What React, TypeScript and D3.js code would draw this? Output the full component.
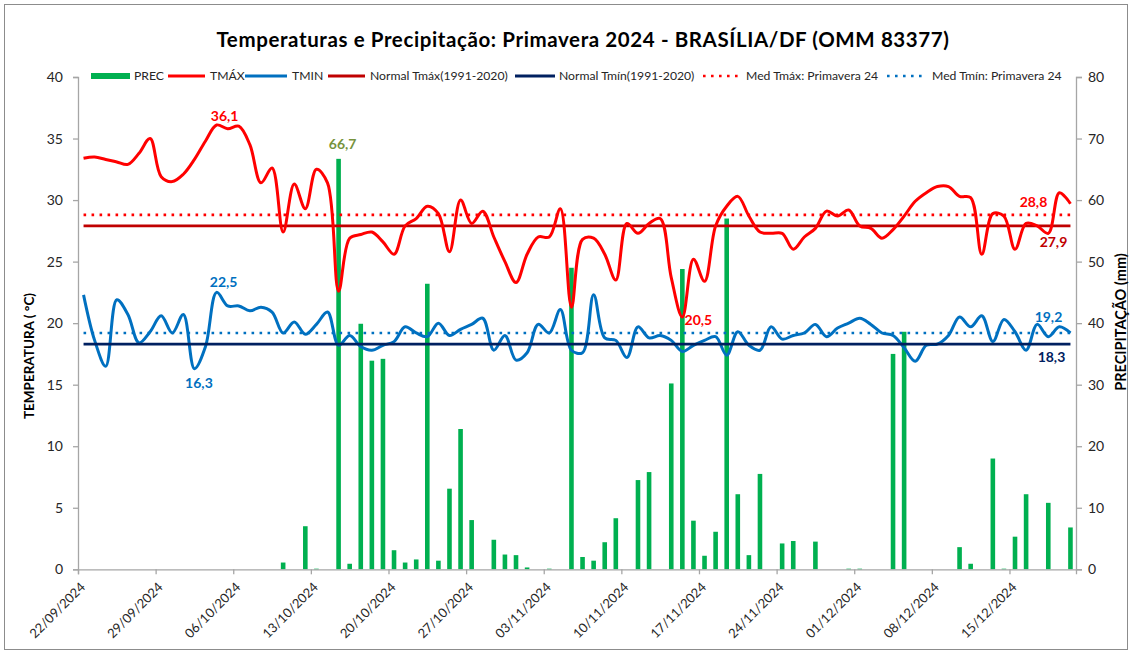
import React, { useEffect, useRef } from 'react';
import * as d3 from 'd3';

// categories: one per day, starting on 22/09/2024
const startDate = '22/09/2024';
const endDate = '21/12/2024';
const tickLabels = [
  '22/09/2024', '29/09/2024', '06/10/2024', '13/10/2024', '20/10/2024', '27/10/2024', '03/11/2024',
  '10/11/2024', '17/11/2024', '24/11/2024', '01/12/2024', '08/12/2024', '15/12/2024',
];

const tmax = [
  33.4, 33.5, 33.3, 33.1, 32.9, 33.8, 35.0, 31.9, 31.5, 32.1,
  33.3, 34.8, 36.1, 35.8, 36.0, 34.5, 31.4, 32.6, 27.4, 31.3,
  29.3, 32.5, 31.4, 22.6, 26.9, 27.2, 27.4, 26.6, 25.6, 27.9,
  28.5, 29.5, 28.9, 25.8, 30.0, 28.1, 29.1, 27.0, 25.0, 23.3,
  25.6, 27.0, 27.0, 29.3, 21.3, 26.8, 26.9, 25.6, 23.5, 28.1,
  27.3, 28.1, 28.5, 23.7, 20.5, 25.2, 23.4, 27.9, 29.5, 30.3,
  28.7, 27.4, 27.3, 27.3, 26.0, 27.0, 27.7, 29.1, 28.7, 29.2,
  27.9, 27.7, 26.9, 27.6, 28.7, 29.9, 30.6, 31.1, 31.1, 30.3,
  30.2, 25.6, 28.9, 28.7, 26.0, 28.1, 27.9, 27.3, 30.6, 29.7,
];

const tmin = [
  22.3, 18.6, 16.5, 21.9, 20.7, 18.4, 19.3, 20.6, 19.2, 20.7,
  16.3, 18.1, 22.5, 21.4, 21.4, 21.0, 21.3, 20.9, 19.2, 20.1,
  19.1, 19.9, 20.9, 18.2, 19.0, 18.1, 17.8, 18.2, 18.5, 19.7,
  19.2, 18.9, 20.0, 19.0, 19.5, 19.9, 20.4, 17.8, 19.0, 17.0,
  17.6, 19.9, 19.2, 21.1, 17.8, 17.6, 22.3, 18.8, 18.6, 17.2,
  19.7, 18.8, 19.0, 18.6, 17.7, 18.2, 18.6, 18.9, 17.4, 19.3,
  18.2, 17.8, 19.7, 18.7, 19.0, 19.2, 19.9, 18.9, 19.6, 20.0,
  20.4, 19.9, 19.2, 19.0, 18.0, 16.9, 18.2, 18.3, 19.0, 20.5,
  19.7, 20.6, 18.5, 20.3, 19.3, 17.8, 19.9, 18.9, 19.7, 19.2,
];

const prec = [
  0, 0, 0, 0, 0, 0, 0, 0, 0, 0,
  0, 0, 0, 0, 0, 0, 0, 0, 1.1, 0,
  7.0, 0.1, 0, 66.7, 0.9, 39.9, 33.9, 34.2, 3.1, 1.1,
  1.6, 46.4, 1.4, 13.1, 22.8, 8.0, 0, 4.8, 2.4, 2.3,
  0.3, 0, 0.1, 0, 49.0, 2.0, 1.4, 4.4, 8.3, 0,
  14.5, 15.8, 0, 30.2, 48.8, 7.9, 2.2, 6.1, 57.0, 12.2,
  2.3, 15.5, 0, 4.2, 4.6, 0, 4.5, 0, 0, 0.1,
  0.1, 0, 0, 35.0, 38.6, 0, 0, 0, 0, 3.6,
  0.9, 0, 18.0, 0.1, 5.3, 12.2, 0, 10.8, 0, 6.8,
];

const normalTmax = 27.9;
const normalTmin = 18.3;
const medTmax = 28.8;
const medTmin = 19.2;

const tempTicks = [0, 5, 10, 15, 20, 25, 30, 35, 40];
const precTicks = [0, 10, 20, 30, 40, 50, 60, 70, 80];

const legendLabels = [
  'PREC', 'TMÁX', 'TMIN', 'Normal Tmáx(1991-2020)', 'Normal Tmín(1991-2020)',
  'Med Tmáx: Primavera 24', 'Med Tmín: Primavera 24',
];

const pointLabels = [
  { series: 'tmax', index: 12, text: '36,1' },
  { series: 'prec', index: 23, text: '66,7' },
  { series: 'tmin', index: 12, text: '22,5' },
  { series: 'tmin', index: 10, text: '16,3' },
  { series: 'tmax', index: 54, text: '20,5' },
  { series: 'medTmax', index: 89, text: '28,8' },
  { series: 'normalTmax', index: 89, text: '27,9' },
  { series: 'medTmin', index: 89, text: '19,2' },
  { series: 'normalTmin', index: 89, text: '18,3' },
];

const W = 1132;
const H = 651;
const FONT = 'Lato, "Open Sans", sans-serif';

const App: React.FC = () => {
  const svgRef = useRef<SVGSVGElement>(null);

  useEffect(() => {
    if (!svgRef.current) return;
    const svg = d3.select(svgRef.current);
    svg.selectAll('*').remove();

    const left = 78, right = 1076, top = 77, bottom = 569.3;
    const parse = d3.utcParse('%d/%m/%Y');
    const start = parse(startDate)!;
    const end = parse(endDate)!;
    const days = tmax.map((_, i) => d3.utcDay.offset(start, i));

    const x = d3.scaleUtc().domain([start, end]).range([left, right]);
    const dayW = x(days[1]) - x(days[0]);
    const cx = (i: number) => x(days[i]) + dayW / 2;
    const yT = d3.scaleLinear().domain([0, 40]).range([bottom, top]);
    const yP = d3.scaleLinear().domain([0, 80]).range([bottom, top]);

    const axisGrey = '#a6a6a6';
    const textCol = '#262626';

    // chart border
    svg.append('rect')
      .attr('x', 4.5).attr('y', 4.5).attr('width', W - 9).attr('height', H - 6)
      .attr('fill', 'white').attr('stroke', '#8c8c8c').attr('stroke-width', 1);

    // title
    svg.append('text')
      .attr('x', 583).attr('y', 47)
      .attr('text-anchor', 'middle')
      .attr('font-family', FONT).attr('font-weight', 'bold').attr('font-size', '20.5px')
      .attr('letter-spacing', '0.6px')
      .attr('fill', 'black')
      .text('Temperaturas e Precipitação: Primavera 2024 - BRASÍLIA/DF (OMM 83377)');

    // precipitation bars
    svg.append('g').selectAll('rect')
      .data(prec.map((p, i) => ({ p, i })).filter(d => d.p > 0))
      .enter().append('rect')
      .attr('x', d => cx(d.i) - 2.3)
      .attr('width', 4.6)
      .attr('y', d => yP(d.p))
      .attr('height', d => Math.max(0.8, bottom - yP(d.p)))
      .attr('fill', '#00b050');

    // axes
    const yAxisL = svg.append('g')
      .attr('transform', `translate(${left},0)`)
      .call(d3.axisLeft(yT).tickValues(tempTicks).tickSize(5).tickPadding(10).tickFormat(d3.format('d')));
    const yAxisR = svg.append('g')
      .attr('transform', `translate(${right},0)`)
      .call(d3.axisRight(yP).tickValues(precTicks).tickSize(6).tickPadding(6).tickFormat(d3.format('d')));
    const xAxis = svg.append('g')
      .attr('transform', `translate(0,${bottom})`)
      .call(d3.axisBottom(x).tickValues(tickLabels.map(t => parse(t)!)).tickSize(5).tickFormat(() => ''));

    [yAxisL, yAxisR, xAxis].forEach(a => {
      a.select('.domain').attr('stroke', axisGrey).attr('stroke-width', 1.3);
      a.selectAll('.tick line').attr('stroke', axisGrey).attr('stroke-width', 1.3);
      a.selectAll('text')
        .attr('fill', textCol).attr('font-size', '14px').attr('font-family', FONT);
    });

    // rotated date labels
    svg.append('g').selectAll('text')
      .data(tickLabels)
      .enter().append('text')
      .attr('transform', d => `translate(${x(parse(d)!) + 8},588) rotate(-45)`)
      .attr('text-anchor', 'end')
      .attr('font-family', FONT).attr('font-size', '13px').attr('fill', textCol)
      .text(d => d);

    // reference lines
    const xs = cx(0), xe = cx(tmax.length - 1);
    const hline = (v: number, color: string, dash: string | null) => {
      const l = svg.append('line')
        .attr('x1', xs).attr('x2', xe).attr('y1', yT(v)).attr('y2', yT(v))
        .attr('stroke', color).attr('stroke-width', 2.7);
      if (dash) l.attr('stroke-dasharray', dash);
    };
    hline(medTmax, '#ff0000', '2.6,5.4');
    hline(medTmin, '#0070c0', '2.6,5.4');
    hline(normalTmax, '#c00000', null);

    // temperature curves
    const line = d3.line<number>()
      .x((_, i) => cx(i))
      .y(d => yT(d))
      .curve(d3.curveCatmullRom.alpha(0.5));
    svg.append('path').attr('d', line(tmin)!)
      .attr('fill', 'none').attr('stroke', '#0070c0').attr('stroke-width', 3);
    svg.append('path').attr('d', line(tmax)!)
      .attr('fill', 'none').attr('stroke', '#ff0000').attr('stroke-width', 3);
    // normal tmin drawn on top, as in the reference
    hline(normalTmin, '#002060', null);

    // point labels
    const labelStyle: Record<string, { color: string; dx: number; dy: number }> = {
      '36,1': { color: '#ff0000', dx: 8, dy: -9 },
      '66,7': { color: '#77933c', dx: 4, dy: -15 },
      '22,5': { color: '#0070c0', dx: 7, dy: -10 },
      '16,3': { color: '#0070c0', dx: 4.5, dy: 14 },
      '20,5': { color: '#ff0000', dx: 16, dy: 3 },
      '28,8': { color: '#ff0000', dx: -37, dy: -13 },
      '27,9': { color: '#c00000', dx: -17, dy: 16 },
      '19,2': { color: '#0070c0', dx: -22, dy: -16 },
      '18,3': { color: '#002060', dx: -19, dy: 13 },
    };
    const valueOf = (s: string, i: number) => {
      if (s === 'tmax') return yT(tmax[i]);
      if (s === 'tmin') return yT(tmin[i]);
      if (s === 'prec') return yP(prec[i]);
      if (s === 'medTmax') return yT(medTmax);
      if (s === 'medTmin') return yT(medTmin);
      if (s === 'normalTmax') return yT(normalTmax);
      return yT(normalTmin);
    };
    svg.append('g').selectAll('text')
      .data(pointLabels)
      .enter().append('text')
      .attr('x', d => cx(d.index) + labelStyle[d.text].dx)
      .attr('y', d => valueOf(d.series, d.index) + labelStyle[d.text].dy)
      .attr('dy', '0.36em')
      .attr('text-anchor', 'middle')
      .attr('font-family', FONT).attr('font-weight', 'bold').attr('font-size', '14px')
      .attr('fill', d => labelStyle[d.text].color)
      .text(d => d.text);

    // axis titles
    svg.append('text')
      .attr('transform', 'translate(34,356) rotate(-90)')
      .attr('text-anchor', 'middle')
      .attr('font-family', FONT).attr('font-weight', 'bold').attr('font-size', '13.5px').attr('fill', 'black')
      .text('TEMPERATURA ( °C)');
    svg.append('text')
      .attr('transform', 'translate(1126,322) rotate(-90)')
      .attr('text-anchor', 'middle')
      .attr('font-family', FONT).attr('font-weight', 'bold').attr('font-size', '14.5px').attr('fill', 'black')
      .text('PRECIPITAÇÃO (mm)');

    // legend
    const legendX = [
      { s: 91, e: 130, t: 134 },
      { s: 168, e: 205, t: 210 },
      { s: 245, e: 287, t: 292 },
      { s: 328, e: 365, t: 370 },
      { s: 515, e: 555, t: 559 },
      { s: 703, e: 739, t: 746 },
      { s: 887, e: 925, t: 932 },
    ];
    const legendStyle = [
      { color: '#00b050', w: 6, dash: null },
      { color: '#ff0000', w: 3, dash: null },
      { color: '#0070c0', w: 3, dash: null },
      { color: '#c00000', w: 3, dash: null },
      { color: '#002060', w: 3, dash: null },
      { color: '#ff0000', w: 2.6, dash: '2.6,5.4' },
      { color: '#0070c0', w: 2.6, dash: '2.6,5.4' },
    ];
    const ly = 76;
    const lg = svg.append('g');
    legendLabels.forEach((lab, i) => {
      const l = lg.append('line')
        .attr('x1', legendX[i].s).attr('x2', legendX[i].e).attr('y1', ly).attr('y2', ly)
        .attr('stroke', legendStyle[i].color).attr('stroke-width', legendStyle[i].w);
      if (legendStyle[i].dash) l.attr('stroke-dasharray', legendStyle[i].dash!);
      lg.append('text')
        .attr('x', legendX[i].t).attr('y', ly).attr('dy', '0.36em')
        .attr('font-family', FONT).attr('font-size', '12.2px').attr('fill', textCol)
        .text(lab);
    });
  }, []);

  return (
    <div style={{ position: 'absolute', left: 0, top: 0, width: W, height: H, background: 'white' }}>
      <svg ref={svgRef} width={W} height={H} style={{ display: 'block' }} />
    </div>
  );
};

export default App;
